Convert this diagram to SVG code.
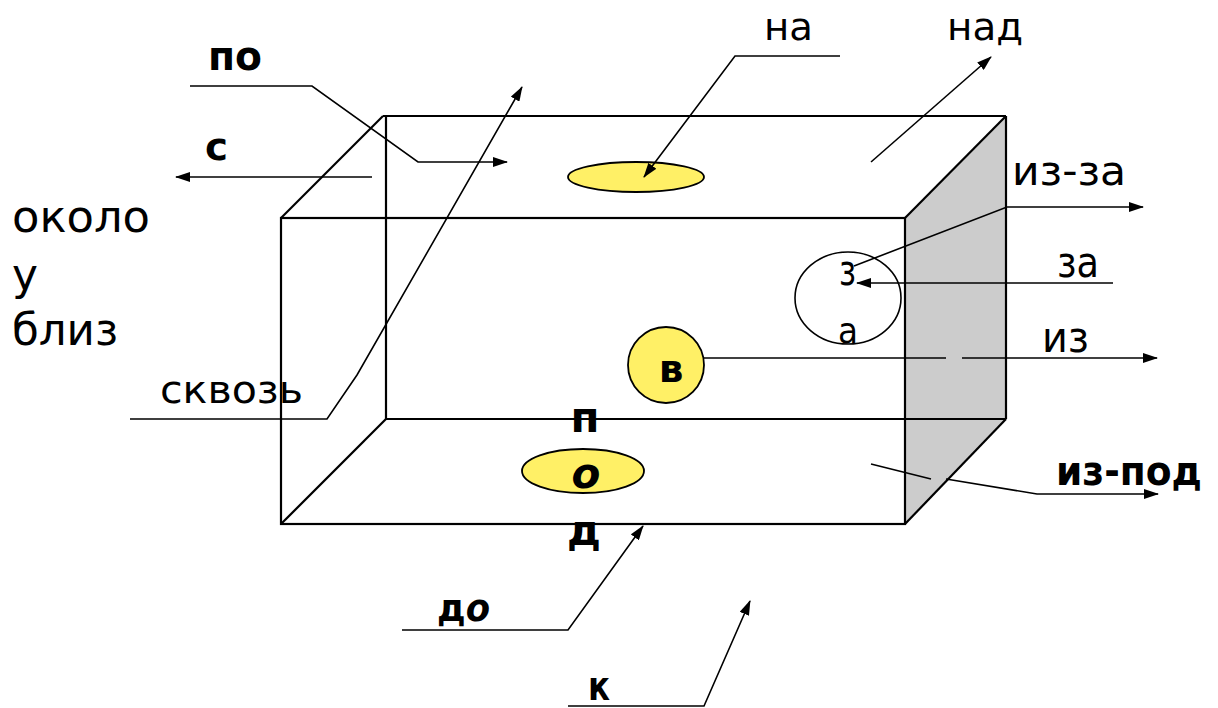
<svg xmlns="http://www.w3.org/2000/svg" width="1218" height="708" viewBox="0 0 1218 708">
<style>
  .edge { fill: none; stroke: #000; stroke-width: 2.2; stroke-linejoin: miter; }
  .conn { fill: none; stroke: #000; stroke-width: 1.6; }
  .t { font-family: "DejaVu Sans", "Liberation Sans", sans-serif; fill: #000; }
  .b { font-weight: bold; }
  .yel { fill: #FFF066; stroke: #000; stroke-width: 1.8; }
</style>
<defs>
  <marker id="arr" viewBox="0 0 15 10" refX="14" refY="5" markerWidth="15" markerHeight="10" markerUnits="userSpaceOnUse" orient="auto">
    <path d="M0,0 L15,5 L0,10 z" fill="#000"/>
  </marker>
</defs>
<rect width="1218" height="708" fill="#fff"/>

<g id="box">
  <polygon points="905,218 1006,116 1006,419 905,524" fill="#CCCCCC" stroke="none"/>
  <line class="edge" x1="383" y1="116" x2="1006" y2="116"/>
  <line class="edge" x1="386" y1="116" x2="386" y2="419"/>
  <line class="edge" x1="386" y1="419" x2="1006" y2="419"/>
  <line class="edge" x1="1006" y1="116" x2="1006" y2="419"/>
  <line class="edge" x1="281" y1="218" x2="383" y2="116"/>
  <line class="edge" x1="281" y1="524" x2="386" y2="419"/>
  <line class="edge" x1="905" y1="218" x2="1006" y2="116"/>
  <line class="edge" x1="905" y1="524" x2="1006" y2="419"/>
  <rect class="edge" x="281" y="218" width="624" height="306"/>
</g>

<g id="shapes">
  <ellipse id="na-spot" class="yel" cx="636" cy="177" rx="68" ry="15"/>
  <ellipse id="pod-spot" class="yel" cx="583" cy="471" rx="61" ry="22"/>
  <circle id="v-spot" class="yel" cx="666" cy="365" r="38"/>
  <ellipse id="za-circle" cx="848" cy="298" rx="53" ry="46" fill="none" stroke="#000" stroke-width="1.6"/>
</g>

<g id="connectors">
  <polyline class="conn" points="190,86 312,86 418,162 507,162" marker-end="url(#arr)"/>
  <line class="conn" x1="372" y1="177" x2="176" y2="177" marker-end="url(#arr)"/>
  <polyline class="conn" points="130,419 327,419 357,375 522,87" marker-end="url(#arr)"/>
  <polyline class="conn" points="840,56 735,56 644,177" marker-end="url(#arr)"/>
  <line class="conn" x1="871" y1="162" x2="991" y2="57" marker-end="url(#arr)"/>
  <polyline class="conn" points="854,266 1007,207 1143,207" marker-end="url(#arr)"/>
  <line class="conn" x1="1113" y1="283" x2="857" y2="283" marker-end="url(#arr)"/>
  <line class="conn" x1="704" y1="358" x2="946" y2="358"/>
  <line class="conn" x1="962" y1="358" x2="1157" y2="358" marker-end="url(#arr)"/>
  <line class="conn" x1="871" y1="464" x2="931" y2="479"/>
  <polyline class="conn" points="946,479 1037,494 1158,494" marker-end="url(#arr)"/>
  <polyline class="conn" points="402,630 568,630 643,526" marker-end="url(#arr)"/>
  <polyline class="conn" points="568,706 704,706 750,601" marker-end="url(#arr)"/>
</g>

<g id="labels">
  <text class="t b" x="208" y="70" font-size="41" textLength="54" lengthAdjust="spacingAndGlyphs">по</text>
  <text class="t b" x="205" y="160" font-size="38" textLength="23" lengthAdjust="spacingAndGlyphs">с</text>
  <text class="t" x="12" y="232" font-size="45" textLength="138" lengthAdjust="spacingAndGlyphs">около</text>
  <text class="t" x="12" y="290" font-size="45" textLength="26" lengthAdjust="spacingAndGlyphs">у</text>
  <text class="t" x="12" y="345" font-size="45" textLength="106" lengthAdjust="spacingAndGlyphs">близ</text>
  <text class="t" x="160" y="403" font-size="39" textLength="143" lengthAdjust="spacingAndGlyphs">сквозь</text>
  <text class="t" x="764" y="40" font-size="38" textLength="49" lengthAdjust="spacingAndGlyphs">на</text>
  <text class="t" x="947" y="40" font-size="38" textLength="76" lengthAdjust="spacingAndGlyphs">над</text>
  <text class="t" x="1012" y="185" font-size="41" textLength="114" lengthAdjust="spacingAndGlyphs">из-за</text>
  <text class="t" x="1057" y="277" font-size="43" textLength="42" lengthAdjust="spacingAndGlyphs">за</text>
  <text class="t" x="1042" y="352" font-size="43" textLength="47" lengthAdjust="spacingAndGlyphs">из</text>
  <text class="t b" x="1056" y="485" font-size="41" textLength="146" lengthAdjust="spacingAndGlyphs">из-под</text>
  <text class="t" x="839" y="285" font-size="42" textLength="17" lengthAdjust="spacingAndGlyphs">з</text>
  <text class="t" x="838" y="343" font-size="35" textLength="20" lengthAdjust="spacingAndGlyphs">а</text>
  <text class="t b" x="671" y="382" font-size="39" text-anchor="middle">в</text>
  <text class="t b" x="585" y="432" font-size="42" text-anchor="middle">п</text>
  <text class="t b" x="586" y="488" font-size="42" font-style="italic" text-anchor="middle">о</text>
  <text class="t b" x="584" y="545" font-size="42" text-anchor="middle">д</text>
  <text class="t b" x="437" y="621" font-size="37" textLength="53" lengthAdjust="spacingAndGlyphs">д<tspan font-style="italic">о</tspan></text>
  <text class="t b" x="588" y="700" font-size="41" textLength="22" lengthAdjust="spacingAndGlyphs">к</text>
</g>
</svg>
